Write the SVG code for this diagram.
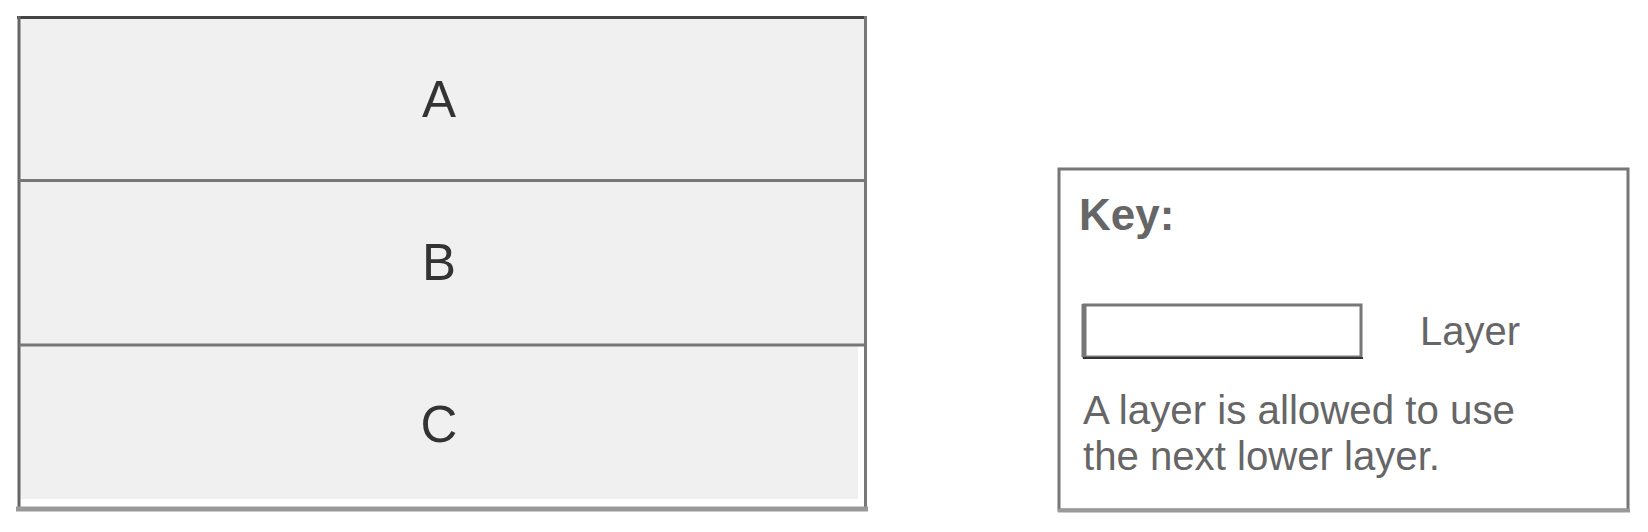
<svg xmlns="http://www.w3.org/2000/svg" width="1648" height="532" viewBox="0 0 1648 532">
<style>
.layer{fill:#f0f0f0;stroke:none}
.ln{stroke:#777;stroke-width:3;fill:none}
.lbl{font-family:"Liberation Sans",Arial,sans-serif;font-size:51px;fill:#333;text-anchor:middle}
.kt{font-family:"Liberation Sans",Arial,sans-serif;fill:#666}
</style>
<rect width="1648" height="532" fill="#fff"/>
<g id="layer-A">
<rect class="layer" x="19" y="18" width="846" height="162"/>
<text class="lbl" x="439" y="117">A</text>
</g>
<g id="layer-B">
<rect class="layer" x="19" y="181" width="846" height="164"/>
<text class="lbl" x="439" y="280">B</text>
</g>
<g id="layer-C">
<rect class="layer" x="19" y="346" width="839" height="153"/>
<text class="lbl" x="439" y="442">C</text>
</g>
<g id="connectors">
<line x1="17" y1="17.5" x2="866" y2="17.5" stroke="#444" stroke-width="3"/>
<line x1="19" y1="16" x2="19" y2="507" stroke="#666" stroke-width="3"/>
<line class="ln" x1="865.5" y1="16" x2="865.5" y2="510"/>
<line class="ln" x1="19" y1="180.5" x2="865" y2="180.5"/>
<line class="ln" x1="19" y1="345" x2="865" y2="345"/>
<line x1="16" y1="509" x2="868" y2="509" stroke="#999" stroke-width="5"/>
</g>
<g id="key">
<rect x="1059" y="169" width="569" height="341" fill="#fff" stroke="#777" stroke-width="3"/>
<line x1="1058" y1="510.5" x2="1630" y2="510.5" stroke="#999" stroke-width="4"/>
<text class="kt" x="1079" y="230" font-size="44" font-weight="bold">Key:</text>
<rect x="1084" y="305" width="277" height="52" fill="#fff" stroke="#777" stroke-width="3"/>
<line x1="1084" y1="304" x2="1084" y2="357" stroke="#777" stroke-width="5"/>
<line x1="1083" y1="358" x2="1363" y2="358" stroke="#333" stroke-width="2"/>
<text class="kt" x="1420" y="345" font-size="40">Layer</text>
<text class="kt" x="1083" y="424" font-size="40" textLength="432" lengthAdjust="spacingAndGlyphs">A layer is allowed to use</text>
<text class="kt" x="1083" y="470" font-size="40" textLength="357" lengthAdjust="spacingAndGlyphs">the next lower layer.</text>
</g>
</svg>
